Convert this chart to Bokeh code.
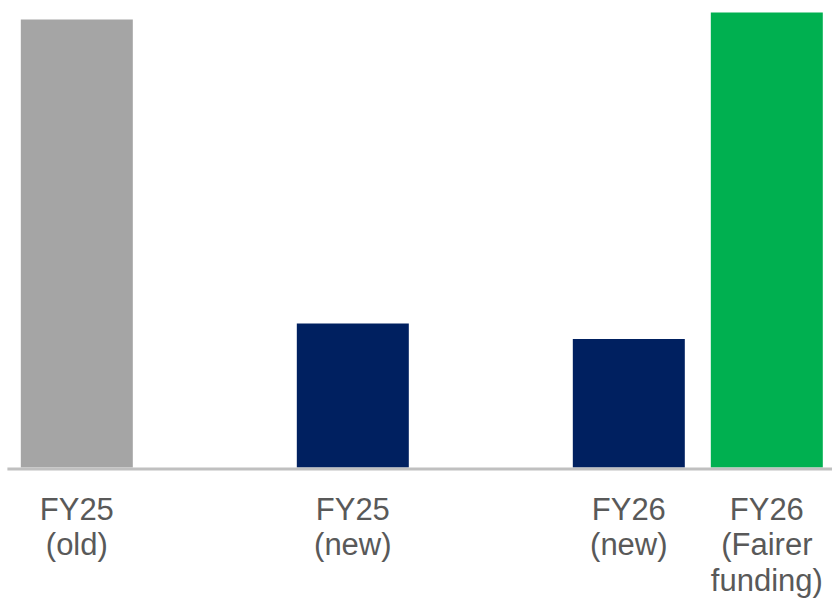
from bokeh.plotting import figure
from bokeh.models import ColumnDataSource, Range1d
from bokeh.core.properties import value
from bokeh.embed import file_html
from bokeh.resources import INLINE

# Data
labels = ["FY25\n(old)", "FY25\n(new)", "FY26\n(new)", "FY26\n(Fairer\nfunding)"]
slots = [0, 2, 4, 5]
values = [448, 144, 128.5, 455]
colors = ["#a5a5a5", "#002060", "#002060", "#00b050"]

p = figure(width=832, height=601, output_backend="svg", toolbar_location=None,
           x_range=Range1d(-0.553, 5.476), y_range=Range1d(-134, 467),
           min_border=0, min_border_left=0, min_border_right=0,
           min_border_top=0, min_border_bottom=0)
p.axis.visible = False
p.grid.visible = False
p.outline_line_color = None
p.background_fill_color = "white"
p.border_fill_color = "white"

src = ColumnDataSource(dict(x=slots, top=values, color=colors))
p.vbar(x="x", top="top", bottom=0, width=112 / 138, fill_color="color",
       line_color=None, source=src)

p.segment(x0=[-0.503], y0=[-1.5], x1=[5.476], y1=[-1.5], line_color="#c0c0c0", line_width=3)

tx, ty, tt = [], [], []
line_step = 35.5
for s, lab in zip(slots, labels):
    for i, part in enumerate(lab.split("\n")):
        tx.append(s)
        ty.append(-41.5 - line_step * i)
        tt.append(part)
p.text(x="x", y="y", text="text", source=ColumnDataSource(dict(x=tx, y=ty, text=tt)),
       text_align="center", text_baseline="alphabetic",
       text_font=value("Liberation Sans"), text_font_size="31px", text_color="#595959")

open("out.html", "w").write(file_html(p, INLINE))
